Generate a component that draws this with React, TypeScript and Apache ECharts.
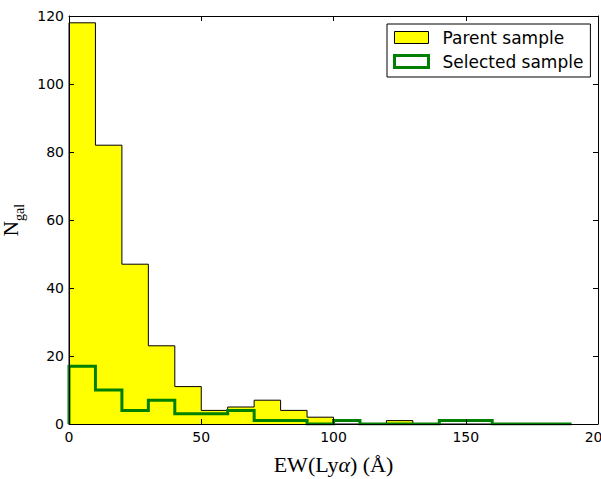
import React, { useEffect, useRef } from "react";
import * as echarts from "echarts";

// Histogram bin edges (EW in Å) and counts
const parentEdges = [0, 10, 20, 30, 40, 50, 60, 70, 80, 90, 100, 110, 120, 130, 140, 150, 160];
const parentCounts = [118, 82, 47, 23, 11, 4, 5, 7, 4, 2, 0, 0, 1, 0, 0, 0];
const selectedEdges = [0, 10, 20, 30, 40, 50, 60, 70, 80, 90, 100, 110, 120, 130, 140, 150, 160, 170, 180, 190];
const selectedCounts = [17, 10, 4, 7, 3, 3, 4, 1, 1, 0, 1, 0, 0, 0, 1, 1, 0, 0, 0];
const xTicks = [0, 50, 100, 150, 200];
const yTicks = [0, 20, 40, 60, 80, 100, 120];
const seriesNames = ["Parent sample", "Selected sample"];

function stepPoints(edges: number[], counts: number[]): number[][] {
  const pts: number[][] = [[edges[0], 0]];
  for (let i = 0; i < counts.length; i++) {
    pts.push([edges[i], counts[i]]);
    pts.push([edges[i + 1], counts[i]]);
  }
  pts.push([edges[edges.length - 1], 0]);
  return pts;
}

const SANS = "DejaVu Sans";
const SERIF = "Liberation Serif";

export default function App() {
  const ref = useRef<HTMLDivElement>(null);
  useEffect(() => {
    if (!ref.current) return;
    const chart = echarts.init(ref.current, null, { renderer: "svg" });
    const xMin = xTicks[0];
    const xMax = xTicks[xTicks.length - 1];
    const xInt = xTicks[1] - xTicks[0];
    const yMin = yTicks[0];
    const yMax = yTicks[yTicks.length - 1];
    const yInt = yTicks[1] - yTicks[0];
    const axisLine = { show: true, onZero: false, lineStyle: { color: "#000", width: 1 } };
    const axisTick = { show: true, inside: true, length: 5, lineStyle: { color: "#000", width: 1 } };
    chart.setOption({
      animation: false,
      backgroundColor: "#fff",
      grid: {
        left: 69,
        right: 3,
        top: 16,
        bottom: 55,
        containLabel: false,
        outerBoundsMode: "none",
      },
      legend: {
        orient: "vertical",
        left: 387,
        top: 24,
        backgroundColor: "#fff",
        borderColor: "#000",
        borderWidth: 1,
        borderRadius: 0,
        padding: [5, 7, 7, 6],
        itemGap: 7,
        itemWidth: 34,
        itemHeight: 12,
        selectedMode: false,
        textStyle: { fontFamily: SANS, fontSize: 17, color: "#000", padding: [0, 0, 0, 9] },
        data: [
          {
            name: seriesNames[0],
            icon: "rect",
            itemStyle: { color: "#ffff00", borderColor: "#000", borderWidth: 1 },
          },
          {
            name: seriesNames[1],
            icon: "rect",
            itemStyle: { color: "#fff", borderColor: "#008000", borderWidth: 3 },
          },
        ],
      },
      xAxis: [
        {
          type: "value",
          position: "bottom",
          min: xMin,
          max: xMax,
          interval: xInt,
          z: 10,
          axisLine,
          axisTick,
          splitLine: { show: false },
          axisLabel: {
            show: true,
            margin: 6,
            fontFamily: SANS,
            fontSize: 14,
            color: "#000",
            showMaxLabel: true,
            showMinLabel: true,
          },
          name: "{n|EW(Ly}{i|α}{n|) (Å)}",
          nameLocation: "middle",
          nameGap: 29,
          nameTextStyle: {
            fontFamily: SERIF,
            fontSize: 22,
            color: "#000",
            rich: {
              n: { fontFamily: SERIF, fontSize: 22, color: "#000" },
              i: { fontFamily: SERIF, fontSize: 22, fontStyle: "italic", color: "#000" },
            },
          },
        },
        {
          type: "value",
          position: "top",
          min: xMin,
          max: xMax,
          interval: xInt,
          z: 10,
          axisLine,
          axisTick,
          splitLine: { show: false },
          axisLabel: { show: false },
        },
      ],
      yAxis: [
        {
          type: "value",
          position: "left",
          min: yMin,
          max: yMax,
          interval: yInt,
          z: 10,
          axisLine,
          axisTick,
          splitLine: { show: false },
          axisLabel: { show: true, margin: 5, fontFamily: SANS, fontSize: 14, color: "#000" },
          name: "{n|N}{s|gal}",
          nameLocation: "middle",
          nameGap: 40,
          nameRotate: 90,
          nameTextStyle: {
            fontFamily: SERIF,
            fontSize: 21,
            color: "#000",
            rich: {
              n: { fontFamily: SERIF, fontSize: 21, color: "#000", verticalAlign: "bottom", padding: [0, 0, 5, 0] },
              s: { fontFamily: SERIF, fontSize: 14, color: "#000", verticalAlign: "bottom" },
            },
          },
        },
        {
          type: "value",
          position: "right",
          min: yMin,
          max: yMax,
          interval: yInt,
          z: 10,
          axisLine,
          axisTick,
          splitLine: { show: false },
          axisLabel: { show: false },
        },
      ],
      series: [
        {
          name: seriesNames[0],
          type: "line",
          xAxisIndex: 0,
          yAxisIndex: 0,
          data: stepPoints(parentEdges, parentCounts),
          symbol: "none",
          clip: true,
          itemStyle: { color: "#ffff00", borderColor: "#000" },
          lineStyle: { color: "#000", width: 1, join: "miter" },
          areaStyle: { color: "#ffff00", opacity: 1, origin: 0 },
          z: 2,
        },
        {
          name: seriesNames[1],
          type: "line",
          xAxisIndex: 0,
          yAxisIndex: 0,
          data: stepPoints(selectedEdges, selectedCounts),
          symbol: "none",
          clip: true,
          itemStyle: { color: "#008000" },
          lineStyle: { color: "#008000", width: 3, join: "miter" },
          z: 3,
        },
      ],
    });
    return () => chart.dispose();
  }, []);
  return (
    <div
      ref={ref}
      style={{ position: "absolute", left: 0, top: 0, width: 601, height: 479 }}
    />
  );
}
